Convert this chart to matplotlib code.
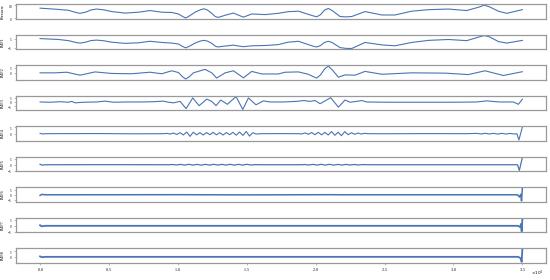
import numpy as np
import matplotlib
matplotlib.use("Agg")
import matplotlib.pyplot as plt

plt.rcParams['font.family'] = ['Liberation Serif', 'DejaVu Serif']
plt.rcParams['axes.formatter.use_mathtext'] = True

labels = ['Pressure', 'IMF1', 'IMF2', 'IMF3', 'IMF4', 'IMF5', 'IMF6', 'IMF7', 'IMF8']

# x positions are in units of 1e4 samples
t_sig = [0.0, 0.133, 0.206, 0.260, 0.290, 0.330, 0.370, 0.411, 0.460, 0.520, 0.617, 0.714,
         0.798, 0.883, 0.955, 1.004, 1.035, 1.057, 1.080, 1.125, 1.165, 1.190, 1.215, 1.246,
         1.270, 1.289, 1.310, 1.343, 1.403, 1.455, 1.476, 1.500, 1.536, 1.633, 1.729, 1.800,
         1.875, 1.947, 1.985, 2.008, 2.035, 2.065, 2.092, 2.120, 2.177, 2.220, 2.262, 2.358,
         2.480, 2.576, 2.697, 2.818, 2.963, 3.096, 3.190, 3.224, 3.260, 3.326, 3.387, 3.500]
pressure = [7.8, 6.8, 6.1, 4.4, 3.7, 4.6, 6.4, 7.1, 6.5, 5.1, 3.9, 4.6,
            5.9, 4.6, 4.4, 3.2, 1.2, 0.0, 1.4, 4.6, 6.6, 7.3, 6.3, 3.7,
            1.3, 0.5, 1.0, 2.2, 3.9, 1.6, 0.7, 1.7, 3.2, 2.7, 3.7, 5.0,
            5.4, 2.9, 1.6, 1.0, 2.6, 6.3, 7.6, 5.9, 1.2, 0.9, 1.2, 5.1,
            2.4, 2.4, 5.4, 6.6, 7.1, 5.9, 8.8, 10.2, 8.9, 5.4, 3.7, 6.6]
imf1 = [5.0, 4.0, 2.7, 0.7, 0.0, 1.0, 2.8, 3.3, 2.6, 1.0, -0.3, 0.3,
        2.0, 0.7, 0.0, -1.0, -3.8, -5.3, -3.8, 0.0, 2.4, 3.0, 2.2, -0.3,
        -3.3, -4.3, -3.9, -3.3, -2.3, -3.6, -4.0, -3.6, -3.0, -2.7, -1.7, 1.0,
        2.0, -1.7, -3.6, -4.3, -2.7, 0.8, 2.0, 0.6, -5.0, -5.9, -6.0, 0.7,
        -2.0, -3.0, 0.7, 3.0, 4.0, 2.7, 7.0, 8.3, 7.0, 1.7, 0.0, 3.0]

t_imf2 = [0.0, 0.109, 0.194, 0.290, 0.399, 0.520, 0.665, 0.798, 0.883, 0.955, 1.004, 1.035,
          1.057, 1.080, 1.113, 1.197, 1.246, 1.282, 1.343, 1.403, 1.476, 1.536, 1.609, 1.729,
          1.778, 1.875, 1.947, 1.985, 2.008, 2.035, 2.065, 2.092, 2.120, 2.165, 2.213, 2.286,
          2.358, 2.480, 2.697, 2.939, 3.108, 3.229, 3.362, 3.500]
imf2 = [0.0, 0.0, 0.6, -2.3, 0.9, -0.6, -0.9, 0.6, -0.9, 2.0, 0.3, -4.0,
        -6.0, -4.2, 0.0, 3.4, 0.0, -5.1, 0.0, 2.0, -4.9, 1.4, -1.1, -1.1,
        0.6, 0.9, -1.4, -3.9, -5.1, -2.0, 3.8, 6.6, 3.0, -4.3, -2.0, -2.3,
        1.4, -1.4, 0.0, -0.3, -1.7, 2.0, -2.6, 1.1]

t_imf3 = [0.0, 0.073, 0.145, 0.206, 0.230, 0.254, 0.315, 0.411, 0.472, 0.532, 0.629, 0.726,
          0.822, 0.895, 0.931, 0.968, 1.016, 1.060, 1.108, 1.154, 1.210, 1.246, 1.277, 1.311,
          1.359, 1.422, 1.471, 1.512, 1.567, 1.621, 1.669, 1.766, 1.863, 1.911, 1.959, 1.996,
          2.032, 2.109, 2.165, 2.213, 2.250, 2.298, 2.334, 2.371, 2.516, 2.758, 2.999, 3.169,
          3.241, 3.278, 3.338, 3.387, 3.435, 3.471, 3.500]
imf3 = [0.0, -0.3, 0.3, -0.3, 0.7, -1.0, -0.3, 0.0, 1.0, -0.3, 0.0, 0.0,
        0.3, 1.0, -0.3, -1.0, 0.7, -7.7, 4.7, -4.3, 3.3, 0.7, -4.3, 2.3,
        -2.7, 6.3, -8.7, 4.7, -3.3, 1.3, 0.0, 0.0, 0.7, 1.7, 0.7, 1.7,
        -2.0, 5.0, -6.0, 2.3, -0.3, 0.7, 1.7, 0.0, -0.3, -0.3, -0.3, 0.0,
        1.3, 0.7, 0.0, 0.0, 0.0, -2.7, 3.3]

t_imf4 = [0.0, 0.015, 0.05, 0.4, 0.7, 0.9,
          0.920, 0.944, 0.968, 0.992, 1.016, 1.040, 1.064, 1.088, 1.112, 1.136, 1.160, 1.184,
          1.208, 1.232, 1.256, 1.280, 1.304, 1.328, 1.352, 1.376, 1.400, 1.424, 1.448, 1.472,
          1.496, 1.520, 1.544, 1.568,
          1.6, 1.75, 1.88,
          1.899, 1.923, 1.947, 1.971, 1.995, 2.019, 2.043, 2.067, 2.091, 2.115, 2.139, 2.163,
          2.187, 2.211, 2.235, 2.259, 2.283, 2.307, 2.331, 2.355, 2.379,
          2.5, 2.8, 3.1, 3.17, 3.20, 3.23, 3.26, 3.29, 3.32, 3.35, 3.38, 3.41, 3.44, 3.46,
          3.475, 3.5]
imf4 = [0.3, -0.2, 0.0, 0.1, -0.1, 0.0,
        0.25, -0.3, 0.5, -0.6, 0.8, -1.0, 1.3, -2.1, 1.15, -0.9, 0.8, -1.0,
        0.9, -0.8, 1.05, -0.9, 0.8, -1.05, 0.9, -0.8, 1.05, -1.15, 1.25, -1.35,
        1.7, -1.9, 0.8, -0.3,
        0.0, 0.05, 0.0,
        -0.25, 0.6, -0.5, 0.9, -0.8, 1.05, -0.9, 1.05, -1.05, 1.7, -1.25, 1.15,
        -1.6, 1.6, -0.8, 0.75, -0.5, 0.5, -0.3, 0.3, 0.0,
        -0.05, 0.05, 0.0, 0.25, -0.25, 0.3, -0.25, 0.25, -0.3, 0.25, -0.25, 0.2, -0.25, 0.0,
        -4.9, 5.2]

t_imf5 = [0.0, 0.012, 0.04, 0.5, 0.94,
          0.96, 0.99, 1.02, 1.05, 1.08, 1.11, 1.14, 1.17, 1.20, 1.23, 1.26, 1.29, 1.32, 1.35,
          1.38, 1.41, 1.44, 1.47, 1.50, 1.53, 1.56,
          1.6, 1.9,
          1.92, 1.95, 1.98, 2.01, 2.04, 2.07, 2.10, 2.13, 2.16, 2.19, 2.22, 2.25, 2.28, 2.31, 2.34,
          2.4, 3.0, 3.465, 3.478, 3.5]
imf5 = [0.4, -0.3, 0.0, 0.05, 0.0,
        0.2, -0.2, 0.3, -0.3, 0.35, -0.3, 0.3, -0.35, 0.3, -0.3, 0.35, -0.3, 0.3, -0.3,
        0.35, -0.35, 0.3, -0.3, 0.35, -0.25, 0.1,
        0.0, 0.0,
        0.2, -0.25, 0.3, -0.3, 0.35, -0.3, 0.35, -0.35, 0.3, -0.3, 0.3, -0.25, 0.2, -0.2, 0.1,
        0.0, 0.0, 0.0, -4.8, 6.1]

t_imf6 = [0.0, 0.012, 0.04, 1.0, 1.5, 2.1, 2.2, 3.0, 3.465, 3.478, 3.488, 3.494, 3.5]
imf6 = [-0.6, 0.4, 0.0, 0.1, -0.1, 0.1, 0.0, 0.0, 0.0, -2.3, 0.5, -6.3, 7.0]

t_imf7 = [0.0, 0.012, 0.04, 1.0, 2.0, 3.0, 3.47, 3.485, 3.49, 3.495, 3.5]
imf7 = [0.5, -0.4, 0.0, 0.0, 0.0, 0.0, 0.0, -1.2, 1.6, -4.7, 6.2]

t_imf8 = [0.0, 0.012, 0.04, 1.0, 2.0, 3.0, 3.47, 3.488, 3.495, 3.5]
imf8 = [0.4, -0.3, 0.0, 0.0, 0.0, 0.0, 0.0, -1.4, -4.6, 7.2]

series = [(t_sig, pressure), (t_sig, imf1), (t_imf2, imf2), (t_imf3, imf3),
          (t_imf4, imf4), (t_imf5, imf5), (t_imf6, imf6), (t_imf7, imf7), (t_imf8, imf8)]
yticks = [[0, 10], [-5, 5], [0, 5], [-5, 0, 5], [0, 5], [-5, 0, 5], [-5, 0, 5], [-5, 0, 5], [0, 5]]
widths = [0.8, 0.8, 0.8, 0.8, 0.8, 0.9, 1.1, 1.3, 1.3]

fig = plt.figure(figsize=(5.5, 2.8), dpi=100)
axes = fig.subplots(9, 1, sharex=True)
fig.subplots_adjust(left=0.029, right=0.9936, top=0.984, bottom=0.0625, hspace=1.15)

for i, ax in enumerate(axes):
    t, y = series[i]
    ax.plot(np.array(t) * 1e4, y, color='#4a74b4', lw=widths[i], solid_joinstyle='round')
    ax.set_yticks(yticks[i])
    ax.set_ylabel(labels[i], fontsize=3.2)
    ax.yaxis.set_label_coords(-0.021, 0.5)
    ax.tick_params(axis='y', labelsize=2.3, length=1.5, width=0.4, pad=0.8, color='#888888')
    ax.tick_params(axis='x', labelsize=3, length=1.5, width=0.4, pad=1.2, color='#888888')
    for s in ax.spines.values():
        s.set_color('#999999')
        s.set_linewidth(0.9)
    if i < 8:
        ax.tick_params(axis='x', bottom=False)

axes[-1].ticklabel_format(axis='x', style='sci', scilimits=(0, 0))
axes[-1].xaxis.get_offset_text().set_visible(False)
fig.text(0.976, 0.022, r'$\times10^{4}$', fontsize=3, ha='center', va='center')

fig.savefig('out.png', dpi=100)
